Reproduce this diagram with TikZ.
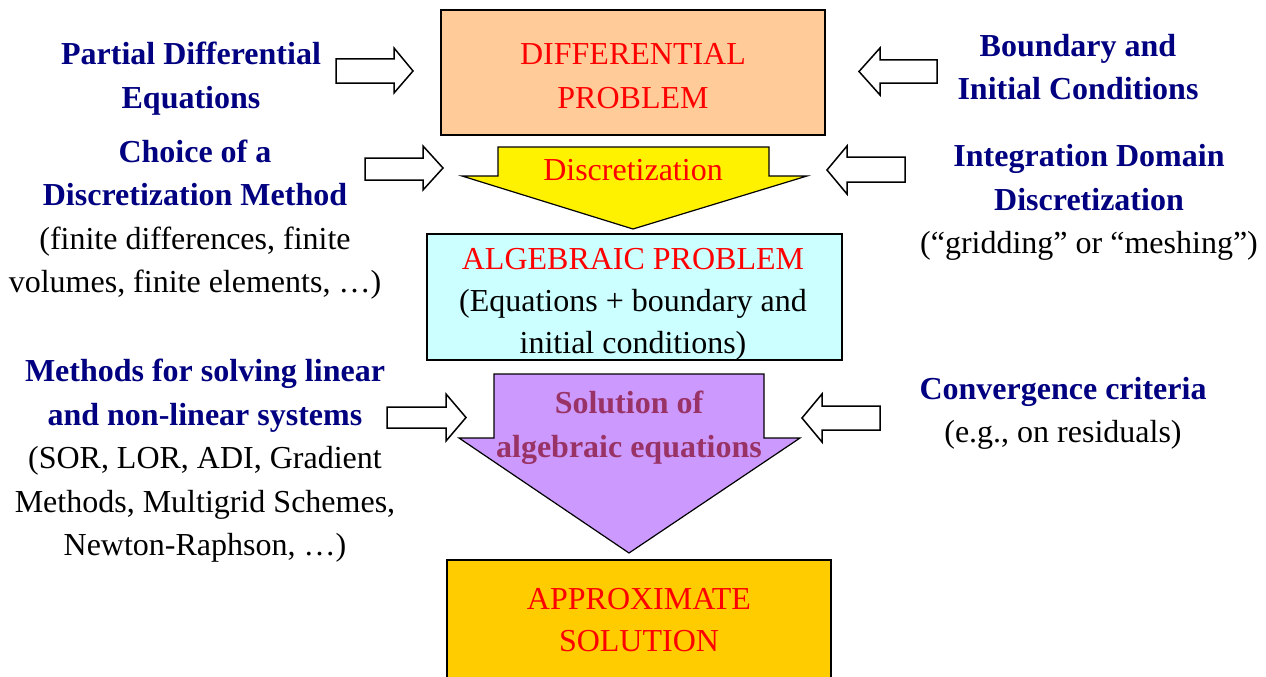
\documentclass[tikz,border=0pt]{standalone}
\usepackage{fontspec}
\setmainfont{Liberation Serif}
\definecolor{navy}{HTML}{000080}
\definecolor{peach}{HTML}{FFCC99}
\definecolor{lcyan}{HTML}{CCFFFF}
\definecolor{lpurple}{HTML}{CC99FF}
\definecolor{gold}{HTML}{FFCC00}
\definecolor{plum}{HTML}{993366}
\begin{document}
\begin{tikzpicture}[x=1pt,y=-1pt,
  txt/.style={align=center, font=\fontsize{32}{43.5}\selectfont, inner sep=0pt},
  box/.style={draw=black, line width=1.5pt, inner sep=0pt},
  blk/.style={draw=black, line width=1.5pt, fill=white, line join=miter},
  bigarrow/.style={draw=black, line width=1.2pt, line join=miter}]
\useasboundingbox (0,0) rectangle (1266,677);
\clip (0,0) rectangle (1266,677);
\fill[white] (0,0) rectangle (1266,677);

% central boxes
\node[box, fill=peach, minimum width=384pt, minimum height=125pt] (diffbox) at (633,72.5) {};
\node[txt, text=red] (diff) at (633,76) {DIFFERENTIAL\\PROBLEM};

\draw[bigarrow, fill=yellow] (498,147) -- (769,147) -- (769,176) -- (807,176) -- (633,229) -- (462,176) -- (498,176) -- cycle;
\node[txt, text=red] (disc) at (633,170) {Discretization};

\node[box, fill=lcyan, minimum width=415pt, minimum height=126pt] (algbox) at (634.5,297) {};
\node[txt, text=black, font=\fontsize{32}{42}\selectfont] (alg) at (633,304) {\textcolor{red}{ALGEBRAIC PROBLEM}\\(Equations + boundary and\\initial conditions)};

\draw[bigarrow, fill=lpurple] (494,374) -- (764,374) -- (764,438) -- (800,438) -- (629,553) -- (459,438) -- (494,438) -- cycle;
\node[txt, text=plum, font=\fontsize{32}{43.5}\selectfont\bfseries] (sol) at (629,428) {Solution of\\algebraic equations};

\node[box, fill=gold, minimum width=384pt, minimum height=130pt] (approxbox) at (639,625) {};
\node[txt, text=red, font=\fontsize{32}{42.5}\selectfont] (approx) at (639,620) {APPROXIMATE\\SOLUTION};

% side labels
\node[txt, text=navy, font=\fontsize{32}{43.5}\selectfont\bfseries] (pde) at (191,78.5) {Partial Differential\\Equations};
\node[txt] (choice) at (195,219.5) {\textcolor{navy}{\textbf{Choice of a}}\\\textcolor{navy}{\textbf{Discretization Method}}\\(finite differences, finite\\volumes, finite elements, …)};
\node[txt, text=navy, font=\fontsize{32}{43.5}\selectfont\bfseries] (bc) at (1078,67) {Boundary and\\Initial Conditions};
\node[txt] (dom) at (1089,202.5) {\textcolor{navy}{\textbf{Integration Domain}}\\\textcolor{navy}{\textbf{Discretization}}\\(“gridding” or “meshing”)};
\node[txt] (meth) at (205,461) {\textcolor{navy}{\textbf{Methods for solving linear}}\\\textcolor{navy}{\textbf{and non-linear systems}}\\(SOR, LOR, ADI, Gradient\\Methods, Multigrid Schemes,\\Newton-Raphson, …)};
\node[txt] (conv) at (1063,413.5) {\textcolor{navy}{\textbf{Convergence criteria}}\\(e.g., on residuals)};

% hollow block arrows
\draw[blk] (336,59) -- (394,59) -- (394,48) -- (413,71) -- (394,93) -- (394,83) -- (336,83) -- cycle;
\draw[blk] (365,158) -- (423,158) -- (423,146) -- (443,168) -- (423,190) -- (423,180) -- (365,180) -- cycle;
\draw[blk] (937,60) -- (880,60) -- (880,48) -- (859,71.5) -- (880,95) -- (880,83) -- (937,83) -- cycle;
\draw[blk] (905,157) -- (847,157) -- (847,146) -- (827,170) -- (847,194) -- (847,182) -- (905,182) -- cycle;
\draw[blk] (387,407) -- (446,407) -- (446,394) -- (466,417.5) -- (446,441) -- (446,428) -- (387,428) -- cycle;
\draw[blk] (880,406) -- (822,406) -- (822,394) -- (802,418) -- (822,442) -- (822,430) -- (880,430) -- cycle;
\end{tikzpicture}
\end{document}
